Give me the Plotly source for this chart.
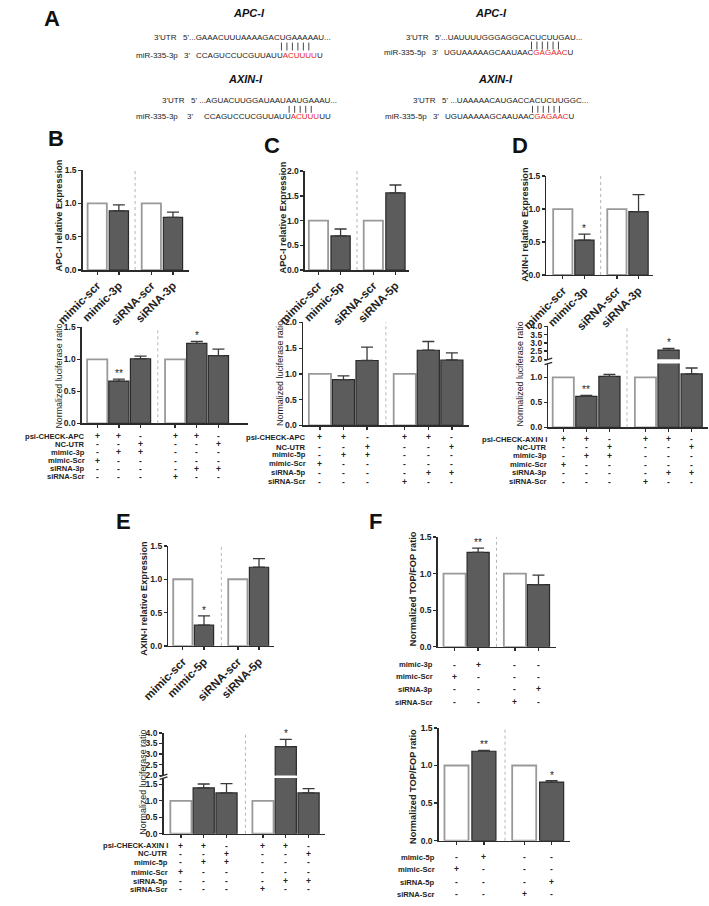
import plotly.graph_objects as go

W, H = 709, 906
FONT = "Liberation Sans, Arial, Helvetica, sans-serif"
RED = "#e8251f"
AXC = "#2b2b2b"

# ---------------- data ----------------
seq_apc_3p_utr = "5'...GAAACUUUAAAAGACUGAAAAAU..."
seq_apc_3p_mir = ["CCAGUCCUCGUUAUU", "ACUUUU", "U"]
seq_apc_5p_utr = "5'...UAUUUUGGGAGGCACUCUUGAU..."
seq_apc_5p_mir = ["UGUAAAAAGCAAUAAC", "GAGAAC", "U"]
seq_axin_3p_utr = "5' ...AGUACUUGGAUAAUAAUGAAAU..."
seq_axin_3p_mir = ["CCAGUCCUCGUUAUU", "ACUUU", "UU"]
seq_axin_5p_utr = "5' ...UAAAAACAUGACCACUCUUGGC..."
seq_axin_5p_mir = ["UGUAAAAAGCAAUAAC", "GAGAAC", "U"]

top_labels_3p = ["mimic-scr", "mimic-3p", "siRNA-scr", "siRNA-3p"]
top_labels_5p = ["mimic-scr", "mimic-5p", "siRNA-scr", "siRNA-5p"]
ctrl4 = [1, 0, 1, 0]
ctrl6 = [1, 0, 0, 1, 0, 0]

b_top_vals = [1.00, 0.89, 1.00, 0.79]
b_top_err = [0.0, 0.09, 0.0, 0.08]
b_top_sig = ["", "", "", ""]

b_bot_vals = [1.00, 0.66, 1.01, 1.00, 1.25, 1.06]
b_bot_err = [0.0, 0.03, 0.04, 0.0, 0.03, 0.10]
b_bot_sig = ["", "**", "", "", "*", ""]

c_top_vals = [1.00, 0.69, 1.00, 1.56]
c_top_err = [0.0, 0.14, 0.0, 0.16]
c_top_sig = ["", "", "", ""]

c_bot_vals = [1.00, 0.89, 1.26, 1.00, 1.46, 1.27]
c_bot_err = [0.0, 0.07, 0.26, 0.0, 0.17, 0.14]
c_bot_sig = ["", "", "", "", "", ""]

d_top_vals = [1.00, 0.53, 1.00, 0.96]
d_top_err = [0.0, 0.09, 0.0, 0.26]
d_top_sig = ["", "*", "", ""]

d_bot_vals = [1.00, 0.62, 1.02, 1.00, 2.56, 1.07]
d_bot_err = [0.0, 0.02, 0.04, 0.0, 0.10, 0.12]
d_bot_sig = ["", "**", "", "", "*", ""]

e_top_vals = [1.00, 0.31, 1.00, 1.18]
e_top_err = [0.0, 0.14, 0.0, 0.13]
e_top_sig = ["", "*", "", ""]

e_bot_vals = [1.00, 1.39, 1.24, 1.00, 3.35, 1.24]
e_bot_err = [0.0, 0.12, 0.28, 0.0, 0.34, 0.13]
e_bot_sig = ["", "", "", "", "*", ""]

f_top_vals = [1.00, 1.29, 1.00, 0.85]
f_top_err = [0.0, 0.06, 0.0, 0.13]
f_top_sig = ["", "**", "", ""]

f_bot_vals = [1.00, 1.19, 1.00, 0.78]
f_bot_err = [0.0, 0.01, 0.0, 0.02]
f_bot_sig = ["", "**", "", "*"]

b_rows = ["psi-CHECK-APC", "NC-UTR", "mimic-3p", "mimic-Scr", "siRNA-3p", "siRNA-Scr"]
c_rows = ["psi-CHECK-APC", "NC-UTR", "mimic-5p", "mimic-Scr", "siRNA-5p", "siRNA-Scr"]
d_rows = ["psi-CHECK-AXIN I", "NC-UTR", "mimic-3p", "mimic-Scr", "siRNA-3p", "siRNA-Scr"]
e_rows = ["psi-CHECK-AXIN I", "NC-UTR", "mimic-5p", "mimic-Scr", "siRNA-5p", "siRNA-Scr"]
luc_table = [
    ["+", "+", "-", "+", "+", "-"],
    ["-", "-", "+", "-", "-", "+"],
    ["-", "+", "+", "-", "-", "-"],
    ["+", "-", "-", "-", "-", "-"],
    ["-", "-", "-", "-", "+", "+"],
    ["-", "-", "-", "+", "-", "-"],
]
f_top_rows = ["mimic-3p", "mimic-Scr", "siRNA-3p", "siRNA-Scr"]
f_bot_rows = ["mimic-5p", "mimic-Scr", "siRNA-5p", "siRNA-Scr"]
topflash_table = [
    ["-", "+", "-", "-"],
    ["+", "-", "-", "-"],
    ["-", "-", "-", "+"],
    ["-", "-", "+", "-"],
]

ticks_15 = [0, 0.5, 1.0, 1.5]
ticks_20 = [0, 0.5, 1.0, 1.5, 2.0]
ticks_10 = [0, 0.5, 1.0]
ticks_up = [2.0, 2.5, 3.0, 3.5, 4.0]


def fx(p):
    return p / W


def fy(p):
    return 1 - p / H


fig = go.Figure()
axes = {}
annotations = []
shapes = []
counter = [0]


def axname(n, l):
    return f"{l}axis" if n == 1 else f"{l}axis{n}"


def axref(n, l):
    return l if n == 1 else f"{l}{n}"


def yaxis_dict(dom, rng, ticks, anchor):
    return dict(domain=dom, range=rng, anchor=anchor, showline=True, linecolor=AXC,
                linewidth=1.5, ticks="outside", ticklen=3, tickwidth=1.3, tickcolor=AXC,
                tickvals=ticks, ticktext=[f"<b>{t:.1f}</b>" for t in ticks],
                tickfont=dict(family=FONT, size=8.5, color="#222"),
                showgrid=False, zeroline=False, fixedrange=True)


def add_panel(vals, errs, sig, ctrl, pos, sep, g, low, up=None, xlabels=None,
              title=None, table=None):
    counter[0] += 1
    n = counter[0]
    xa, ya = axref(n, "x"), axref(n, "y")
    unit = g["unit"]
    xrange = [(g["xl"] - g["c0"]) / unit, (g["xr"] - g["c0"]) / unit]
    bw = g["bw"] / unit
    axes[axname(n, "x")] = dict(
        domain=[fx(g["xl"]), fx(g["xr"])], range=xrange, anchor=ya, showline=True,
        linecolor=AXC, linewidth=1.5, ticks="outside", ticklen=3, tickwidth=1.3,
        tickcolor=AXC, tickvals=pos,
        ticktext=[f"<b>{l}</b>" for l in xlabels] if xlabels else [""] * len(pos),
        tickangle=-45, tickfont=dict(family=FONT, size=11.5, color="#222"),
        showgrid=False, zeroline=False, fixedrange=True)
    axes[axname(n, "y")] = yaxis_dict([fy(low["y0"]), fy(low["yt"])], [0, low["vmax"]],
                                      low["ticks"], xa)
    yaxes = [ya]
    yu = None
    if up:
        counter[0] += 1
        m = counter[0]
        yu = axref(m, "y")
        axes[axname(m, "y")] = yaxis_dict([fy(up["yb"]), fy(up["yt"])],
                                          [up["vmin"], up["vmax"]], up["ticks"], xa)
        yaxes.append(yu)
    xw = [p for p, c in zip(pos, ctrl) if c]
    vw = [v for v, c in zip(vals, ctrl) if c]
    xd = [p for p, c in zip(pos, ctrl) if not c]
    vd = [v for v, c in zip(vals, ctrl) if not c]
    ed = [e for e, c in zip(errs, ctrl) if not c]
    for yy in yaxes:
        fig.add_trace(go.Bar(x=xw, y=vw, width=bw, xaxis=xa, yaxis=yy,
                             marker=dict(color="white", line=dict(color="#999999", width=1.8)),
                             showlegend=False, hoverinfo="skip"))
        fig.add_trace(go.Bar(x=xd, y=vd, width=bw, xaxis=xa, yaxis=yy,
                             marker=dict(color="#5c5c5c", line=dict(color="#2a2a2a", width=1.2)),
                             error_y=dict(type="data", symmetric=False, array=ed,
                                          arrayminus=[0] * len(ed), color="#3a3a3a",
                                          thickness=1.3, width=6),
                             showlegend=False, hoverinfo="skip"))
    # significance stars
    for p, v, e, s in zip(pos, vals, errs, sig):
        if s:
            top = v + e
            ref = yu if (up and top > low["vmax"]) else ya
            annotations.append(dict(x=p, y=top, xref=xa, yref=ref, text=s, showarrow=False,
                                    yanchor="bottom", yshift=-2,
                                    font=dict(family=FONT, size=10, color="#222")))
    # dotted separator
    top_px = up["yt"] if up else low["yt"]
    shapes.append(dict(type="line", xref=xa, yref="paper", x0=sep, x1=sep,
                       y0=fy(low["y0"]), y1=fy(top_px),
                       line=dict(color="#b5b5b5", width=1, dash="dot")))
    # axis break marks
    if up:
        for yp in (low["yt"], up["yb"]):
            shapes.append(dict(type="line", xref="paper", yref="paper",
                               x0=fx(g["xl"] - 4), x1=fx(g["xl"] + 4),
                               y0=fy(yp + 1.2), y1=fy(yp - 1.2),
                               line=dict(color=AXC, width=1.3)))
    # y title
    if title:
        annotations.append(dict(x=fx(title["x"]), y=fy(title["y"]), xref="paper", yref="paper",
                                text=title["text"], textangle=-90, showarrow=False,
                                xanchor="center", yanchor="middle",
                                font=dict(family=FONT, size=title["size"], color="#222")))
    # condition table
    if table:
        for r, (lab, ypx) in enumerate(zip(table["rows"], table["ys"])):
            annotations.append(dict(x=fx(table["lx"]), y=fy(ypx), xref="paper", yref="paper",
                                    text=f"<b>{lab}</b>", showarrow=False, xanchor="right",
                                    yanchor="middle", borderpad=0,
                                    font=dict(family=FONT, size=7.6, color="#222")))
            for p, sym in zip(pos, table["data"][r]):
                annotations.append(dict(x=p, y=fy(ypx), xref=xa, yref="paper",
                                        text=f"<b>{sym}</b>", showarrow=False,
                                        xanchor="center", yanchor="middle", borderpad=0,
                                        font=dict(family=FONT, size=8.5, color="#222")))


LUC = "Normalized luciferase ratio"

# ---------------- panel B ----------------
add_panel(b_top_vals, b_top_err, b_top_sig, ctrl4, [0, 1, 2.5, 3.5], 1.75,
          dict(xl=58, xr=168, c0=73, unit=22.5, bw=20),
          dict(y0=268, yt=167, vmax=1.5, ticks=ticks_15), xlabels=top_labels_3p,
          title=dict(text="<b>APC-I relative Expression</b>", x=33, y=213, size=9.2))
add_panel(b_bot_vals, b_bot_err, b_bot_sig, ctrl6, [0, 1, 2, 3.6, 4.6, 5.6], 2.8,
          dict(xl=57, xr=230, c0=73, unit=22.5, bw=21),
          dict(y0=423, yt=326, vmax=1.5, ticks=ticks_15),
          title=dict(text=LUC, x=33, y=375, size=8.9),
          table=dict(rows=b_rows, data=luc_table, lx=61, ys=[436, 444, 452, 461, 469, 477]))

# ---------------- panel C ----------------
add_panel(c_top_vals, c_top_err, c_top_sig, ctrl4, [0, 1, 2.48, 3.48], 1.74,
          dict(xl=289, xr=397, c0=303, unit=23, bw=20),
          dict(y0=268, yt=168, vmax=2.0, ticks=ticks_20), xlabels=top_labels_5p,
          title=dict(text="<b>APC-I relative Expression</b>", x=266, y=215, size=9.2))
add_panel(c_bot_vals, c_bot_err, c_bot_sig, ctrl6, [0, 1, 2, 3.6, 4.6, 5.6], 2.8,
          dict(xl=287, xr=460, c0=304.5, unit=24.5, bw=23),
          dict(y0=425, yt=321, vmax=2.0, ticks=ticks_20),
          title=dict(text=LUC, x=263, y=372, size=8.9),
          table=dict(rows=c_rows, data=luc_table, lx=291, ys=[437, 447, 455, 464, 473, 482]))

# ---------------- panel D ----------------
add_panel(d_top_vals, d_top_err, d_top_sig, ctrl4, [0, 1, 2.5, 3.5], 1.75,
          dict(xl=540, xr=651, c0=557, unit=22.5, bw=20),
          dict(y0=273, yt=173, vmax=1.5, ticks=ticks_15), xlabels=top_labels_3p,
          title=dict(text="<b>AXIN-I relative Expression</b>", x=517, y=222, size=9.2))
add_panel(d_bot_vals, d_bot_err, d_bot_sig, ctrl6, [0, 1, 2, 3.56, 4.56, 5.56], 2.76,
          dict(xl=542, xr=708, c0=557.5, unit=24, bw=22),
          dict(y0=427, yt=362.5, vmax=1.28, ticks=ticks_10),
          up=dict(yb=358.3, yt=325, vmin=2.0, vmax=4.0, ticks=ticks_up),
          title=dict(text=LUC, x=512, y=373, size=8.9),
          table=dict(rows=d_rows, data=luc_table, lx=542, ys=[439, 447, 456, 465, 473, 482]))

# ---------------- panel E ----------------
add_panel(e_top_vals, e_top_err, e_top_sig, ctrl4, [0, 1, 2.6, 3.6], 1.82,
          dict(xl=147, xr=257, c0=162, unit=22, bw=20),
          dict(y0=648, yt=547, vmax=1.5, ticks=ticks_15), xlabels=top_labels_5p,
          title=dict(text="<b>AXIN-I relative Expression</b>", x=122, y=600, size=9.2))
add_panel(e_bot_vals, e_bot_err, e_bot_sig, ctrl6, [0, 1, 2, 3.6, 4.6, 5.6], 2.83,
          dict(xl=142, xr=310, c0=160, unit=23.7, bw=22),
          dict(y0=838, yt=781.7, vmax=1.69, ticks=ticks_15),
          up=dict(yb=779, yt=736, vmin=2.0, vmax=4.0, ticks=ticks_up),
          title=dict(text=LUC, x=121, y=786, size=8.9),
          table=dict(rows=e_rows, data=luc_table, lx=148, ys=[850, 858, 867, 877, 886, 894]))

# ---------------- panel F ----------------
add_panel(f_top_vals, f_top_err, f_top_sig, ctrl4, [0, 1, 2.56, 3.56], 1.78,
          dict(xl=427, xr=550, c0=444.5, unit=24.5, bw=23),
          dict(y0=649, yt=538, vmax=1.5, ticks=ticks_15),
          title=dict(text="<b>Normalized TOP/FOP ratio</b>", x=402, y=590, size=9.2),
          table=dict(rows=f_top_rows, data=topflash_table, lx=423, ys=[667, 679, 692, 705]))
add_panel(f_bot_vals, f_bot_err, f_bot_sig, ctrl4, [0, 1, 2.47, 3.47], 1.77,
          dict(xl=428, xr=565, c0=446.5, unit=28.5, bw=25),
          dict(y0=845, yt=731, vmax=1.5, ticks=ticks_15),
          title=dict(text="<b>Normalized TOP/FOP ratio</b>", x=402, y=790, size=9.2),
          table=dict(rows=f_bot_rows, data=topflash_table, lx=425, ys=[862, 874, 887, 899]))

# ---------------- panel letters ----------------
for letter, (lx, ly) in {"A": (26, 14), "B": (30, 135), "C": (255, 142), "D": (513, 142),
                         "E": (100, 522), "F": (362, 522)}.items():
    annotations.append(dict(x=fx(lx), y=fy(ly), xref="paper", yref="paper",
                            text=f"<b>{letter}</b>", showarrow=False, xanchor="center",
                            yanchor="middle", font=dict(family=FONT, size=22, color="#111")))

# ---------------- panel A: sequences ----------------
SEQ = 8


def txt(x, y, s, anchor="left", size=SEQ, color="#222"):
    annotations.append(dict(x=fx(x), y=fy(y), xref="paper", yref="paper", text=s,
                            showarrow=False, xanchor=anchor, yanchor="middle", borderpad=0,
                            font=dict(family=FONT, size=size, color=color)))


def mir(parts):
    return f"{parts[0]}<span style='color:{RED}'>{parts[1]}</span>{parts[2]}"


def pair_bars(x0, x1, y0, y1, k=6):
    for i in range(k):
        xx = x0 + (x1 - x0) * i / (k - 1)
        shapes.append(dict(type="line", xref="paper", yref="paper", x0=fx(xx), x1=fx(xx),
                           y0=fy(y0), y1=fy(y1), line=dict(color="#333", width=0.9)))


for hx, hy, name in [(231, 8, "APC-I"), (482, 8, "APC-I"), (227, 75, "AXIN-I"), (487, 75, "AXIN-I")]:
    txt(hx, hy, f"<b><i>{name}</i></b>", anchor="center", size=11, color="#111")

# APC / miR-335-3p
txt(157, 33, "3'UTR", anchor="right")
txt(161, 33, seq_apc_3p_utr)
txt(158, 51, "miR-335-3p", anchor="right")
txt(162, 51, "3'")
txt(175, 51, mir(seq_apc_3p_mir))
pair_bars(264.5, 293, 38, 46)

# APC / miR-335-5p
txt(419, 33, "3'UTR", anchor="right")
txt(423, 33, seq_apc_5p_utr)
txt(416, 48, "miR-335-5p", anchor="right")
txt(420, 48, "3'")
txt(432, 48, mir(seq_apc_5p_mir))
pair_bars(524.5, 552.5, 37, 45)

# AXIN / miR-335-3p
txt(165, 97, "3'UTR", anchor="right")
txt(169, 97, seq_axin_3p_utr)
txt(158, 113, "miR-335-3p", anchor="right")
txt(165, 113, "3'")
txt(183, 113, mir(seq_axin_3p_mir))
pair_bars(272.5, 295.5, 102, 109, k=5)

# AXIN / miR-335-5p
txt(426, 97, "3'UTR", anchor="right")
txt(430, 97, seq_axin_5p_utr)
txt(417, 113, "miR-335-5p", anchor="right")
txt(421, 113, "3'")
txt(433, 113, mir(seq_axin_5p_mir))
pair_bars(525.5, 553.5, 102, 109)

fig.update_layout(
    width=W, height=H, margin=dict(l=0, r=0, t=0, b=0, pad=0),
    paper_bgcolor="white", plot_bgcolor="white", showlegend=False,
    barmode="overlay", annotations=annotations, shapes=shapes,
    font=dict(family=FONT, color="#222"), **axes)

fig.write_html("out.html", config={"displayModeBar": False, "staticPlot": True},
               post_script="document.body.style.margin='0';document.body.style.overflow='hidden';")
